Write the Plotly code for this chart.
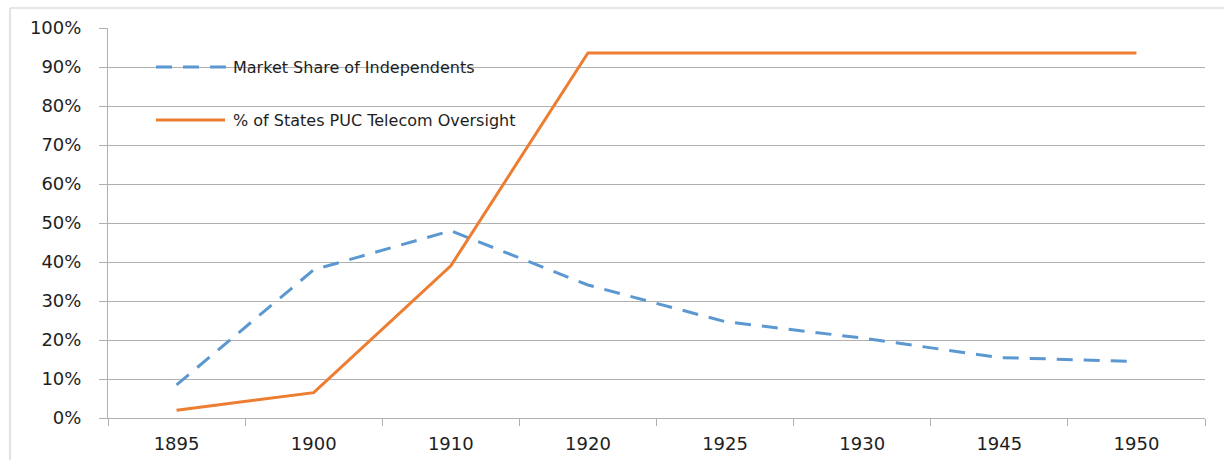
import plotly.graph_objects as go

# Chart data
years = ["1895", "1900", "1910", "1920", "1925", "1930", "1945", "1950"]
market_share_independents = [0.085, 0.38, 0.48, 0.341, 0.247, 0.205, 0.155, 0.145]
states_puc_oversight = [0.02, 0.065, 0.39, 0.936, 0.936, 0.936, 0.936, 0.936]
y_ticks = [0, 0.1, 0.2, 0.3, 0.4, 0.5, 0.6, 0.7, 0.8, 0.9, 1.0]
y_tick_labels = ["0%", "10%", "20%", "30%", "40%", "50%", "60%", "70%", "80%", "90%", "100%"]

series_names = ["Market Share of Independents", "% of States PUC Telecom Oversight"]
BLUE = "#5B97D0"
ORANGE = "#ED7D31"
GRID = "#b0b0b0"
TEXT = "#1e1e1e"
FONT = "DejaVu Sans"
DASH = "16px,11px"

W, H = 1224, 460
ML, MR, MT, MB = 108, 19, 28, 42
PW, PH = W - ML - MR, H - MT - MB


def px_x(px):
    return (px - ML) / PW


def px_y(py):
    return (H - MB - py) / PH


fig = go.Figure()
fig.add_trace(go.Scatter(
    x=years, y=market_share_independents, mode="lines", name=series_names[0],
    line=dict(color=BLUE, width=3, dash=DASH), showlegend=False,
))
fig.add_trace(go.Scatter(
    x=years, y=states_puc_oversight, mode="lines", name=series_names[1],
    line=dict(color=ORANGE, width=3), showlegend=False,
))

shapes = []
# outer chart frame (top and left edges)
shapes.append(dict(type="line", xref="paper", yref="paper",
                   x0=px_x(10), x1=px_x(1240), y0=px_y(8), y1=px_y(8),
                   line=dict(color="#cfcfcf", width=1.2)))
shapes.append(dict(type="line", xref="paper", yref="paper",
                   x0=px_x(10), x1=px_x(10), y0=px_y(8), y1=px_y(480),
                   line=dict(color="#cfcfcf", width=1.2)))

# legend keys drawn inside the plot
legend_rows = [(67, BLUE, DASH, 228), (120, ORANGE, "solid", 225)]
annotations = []
for (py, color, dash, x_end), name in zip(legend_rows, series_names):
    shapes.append(dict(type="line", xref="paper", yref="paper",
                       x0=px_x(156), x1=px_x(x_end), y0=px_y(py), y1=px_y(py),
                       line=dict(color=color, width=3, dash=dash)))
    annotations.append(dict(xref="paper", yref="paper", x=px_x(231), y=px_y(py),
                            text=name, showarrow=False, xanchor="left", yanchor="middle",
                            font=dict(family=FONT, size=16, color=TEXT)))

fig.update_layout(
    width=W, height=H,
    margin=dict(l=ML, r=MR, t=MT, b=MB),
    paper_bgcolor="white", plot_bgcolor="white",
    shapes=shapes, annotations=annotations,
    showlegend=False,
    font=dict(family=FONT, color=TEXT),
)
fig.update_xaxes(
    type="category", categoryorder="array", categoryarray=years,
    range=[-0.5, len(years) - 0.5], automargin=False,
    tickson="boundaries", ticks="outside", ticklen=7, tickcolor=GRID, tickwidth=1,
    showline=True, linecolor=GRID, linewidth=1,
    showgrid=False, tickfont=dict(family=FONT, size=18, color=TEXT),
    ticklabelstandoff=9,
)
fig.update_yaxes(
    range=[0, 1.0], tickvals=y_ticks, ticktext=y_tick_labels, automargin=False,
    ticks="outside", ticklen=8, tickcolor=GRID, tickwidth=1,
    showline=True, linecolor=GRID, linewidth=1,
    showgrid=True, gridcolor=GRID, gridwidth=1, zeroline=False,
    tickfont=dict(family=FONT, size=18, color=TEXT),
    ticklabelstandoff=14,
)

fig.write_html("out.html")
